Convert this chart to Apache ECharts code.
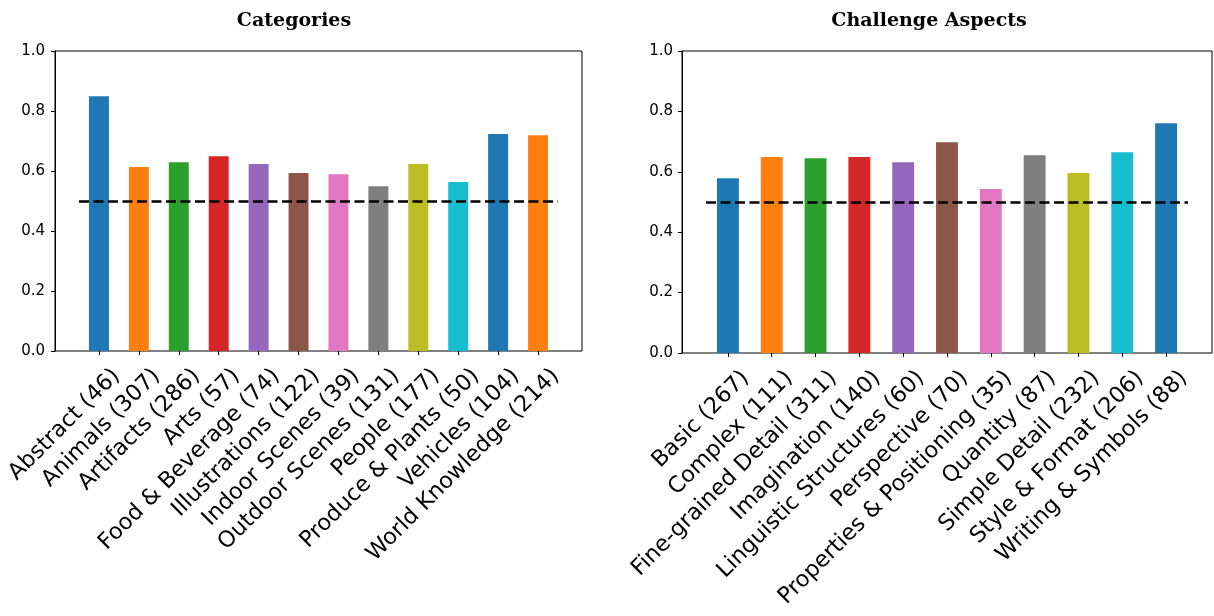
<!DOCTYPE html>
<html>
<head>
<meta charset="utf-8">
<script src="https://cdn.jsdelivr.net/npm/echarts@6/dist/echarts.min.js"></script>
<style>
html,body{margin:0;padding:0;background:#fff;}
#chart{width:1214px;height:616px;}
</style>
</head>
<body>
<div id="chart"></div>
<script>
// ---- data ----
const catNames = ['Abstract','Animals','Artifacts','Arts','Food & Beverage','Illustrations','Indoor Scenes','Outdoor Scenes','People','Produce & Plants','Vehicles','World Knowledge'];
const catCounts = [46,307,286,57,74,122,39,131,177,50,104,214];
const catValues = [0.849,0.613,0.629,0.649,0.623,0.593,0.589,0.549,0.623,0.563,0.723,0.719];

const aspNames = ['Basic','Complex','Fine-grained Detail','Imagination','Linguistic Structures','Perspective','Properties & Positioning','Quantity','Simple Detail','Style & Format','Writing & Symbols'];
const aspCounts = [267,111,311,140,60,70,35,87,232,206,88];
const aspValues = [0.579,0.649,0.645,0.649,0.632,0.698,0.543,0.655,0.596,0.665,0.761];

const chanceLevel = 0.5;
const yTicks = [0.0,0.2,0.4,0.6,0.8,1.0];
const titles = ['Categories','Challenge Aspects'];
const palette = ['#1f77b4','#ff7f0e','#2ca02c','#d62728','#9467bd','#8c564b','#e377c2','#7f7f7f','#bcbd22','#17becf'];

// ---- layout ----
const panels = [
  {outer:{left:55, top:51, width:527, height:300}, inner:{left:79, top:51, width:479, height:300}, titleX:294, labelMargin:10},
  {outer:{left:682, top:51, width:530, height:302}, inner:{left:706, top:51, width:482, height:302}, titleX:929, labelMargin:9}
];
const datasets = [
  {names:catNames, counts:catCounts, values:catValues},
  {names:aspNames, counts:aspCounts, values:aspValues}
];

const grid = [], xAxis = [], yAxis = [], series = [], graphic = [];
panels.forEach((p, i) => {
  const d = datasets[i];
  const labels = d.names.map((n, k) => n + ' (' + d.counts[k] + ')');
  grid.push(Object.assign({show:true, borderColor:'#000', borderWidth:1, backgroundColor:'transparent', containLabel:false, outerBoundsMode:'none'}, p.outer));
  grid.push(Object.assign({show:false, containLabel:false, outerBoundsMode:'none'}, p.inner));
  xAxis.push({gridIndex:2*i, type:'value', min:0, max:1, show:false});
  yAxis.push({
    gridIndex:2*i, type:'value', min:yTicks[0], max:yTicks[yTicks.length-1], interval:0.2,
    axisLine:{show:true, lineStyle:{color:'#000', width:1}},
    axisTick:{show:true, length:4, lineStyle:{color:'#000', width:1}},
    splitLine:{show:false},
    axisLabel:{color:'#000', fontSize:15, fontFamily:'DejaVu Sans', margin:p.labelMargin, formatter:v => v.toFixed(1)}
  });
  xAxis.push({
    gridIndex:2*i+1, type:'category', data:labels, boundaryGap:true,
    axisLine:{show:false},
    axisTick:{show:true, alignWithLabel:true, length:4, lineStyle:{color:'#000', width:1}},
    axisLabel:{interval:0, rotate:45, color:'#000', fontSize:22.4, fontFamily:'DejaVu Sans', margin:4, align:'right', verticalAlign:'top', lineHeight:50},
    splitLine:{show:false}
  });
  yAxis.push({gridIndex:2*i+1, type:'value', min:0, max:1, show:false});
  series.push({
    type:'bar', xAxisIndex:2*i+1, yAxisIndex:2*i+1, barWidth:'50%',
    data:d.values.map((v, k) => ({value:v, itemStyle:{color:palette[k % palette.length]}})),
    markLine:{
      symbol:'none', silent:true, animation:false,
      label:{show:false},
      lineStyle:{color:'#000', width:2.5, type:[10,4.5]},
      data:[{yAxis:chanceLevel}]
    }
  });
  graphic.push({
    type:'text', x:p.titleX, y:12,
    style:{text:titles[i], font:'bold 19px "DejaVu Serif"', fill:'#000', align:'center', verticalAlign:'top', textAlign:'center', textVerticalAlign:'top'}
  });
});

const chart = echarts.init(document.getElementById('chart'), null, {renderer:'canvas'});
chart.setOption({
  animation:false,
  backgroundColor:'#fff',
  grid, xAxis, yAxis, series, graphic
});
</script>
</body>
</html>
